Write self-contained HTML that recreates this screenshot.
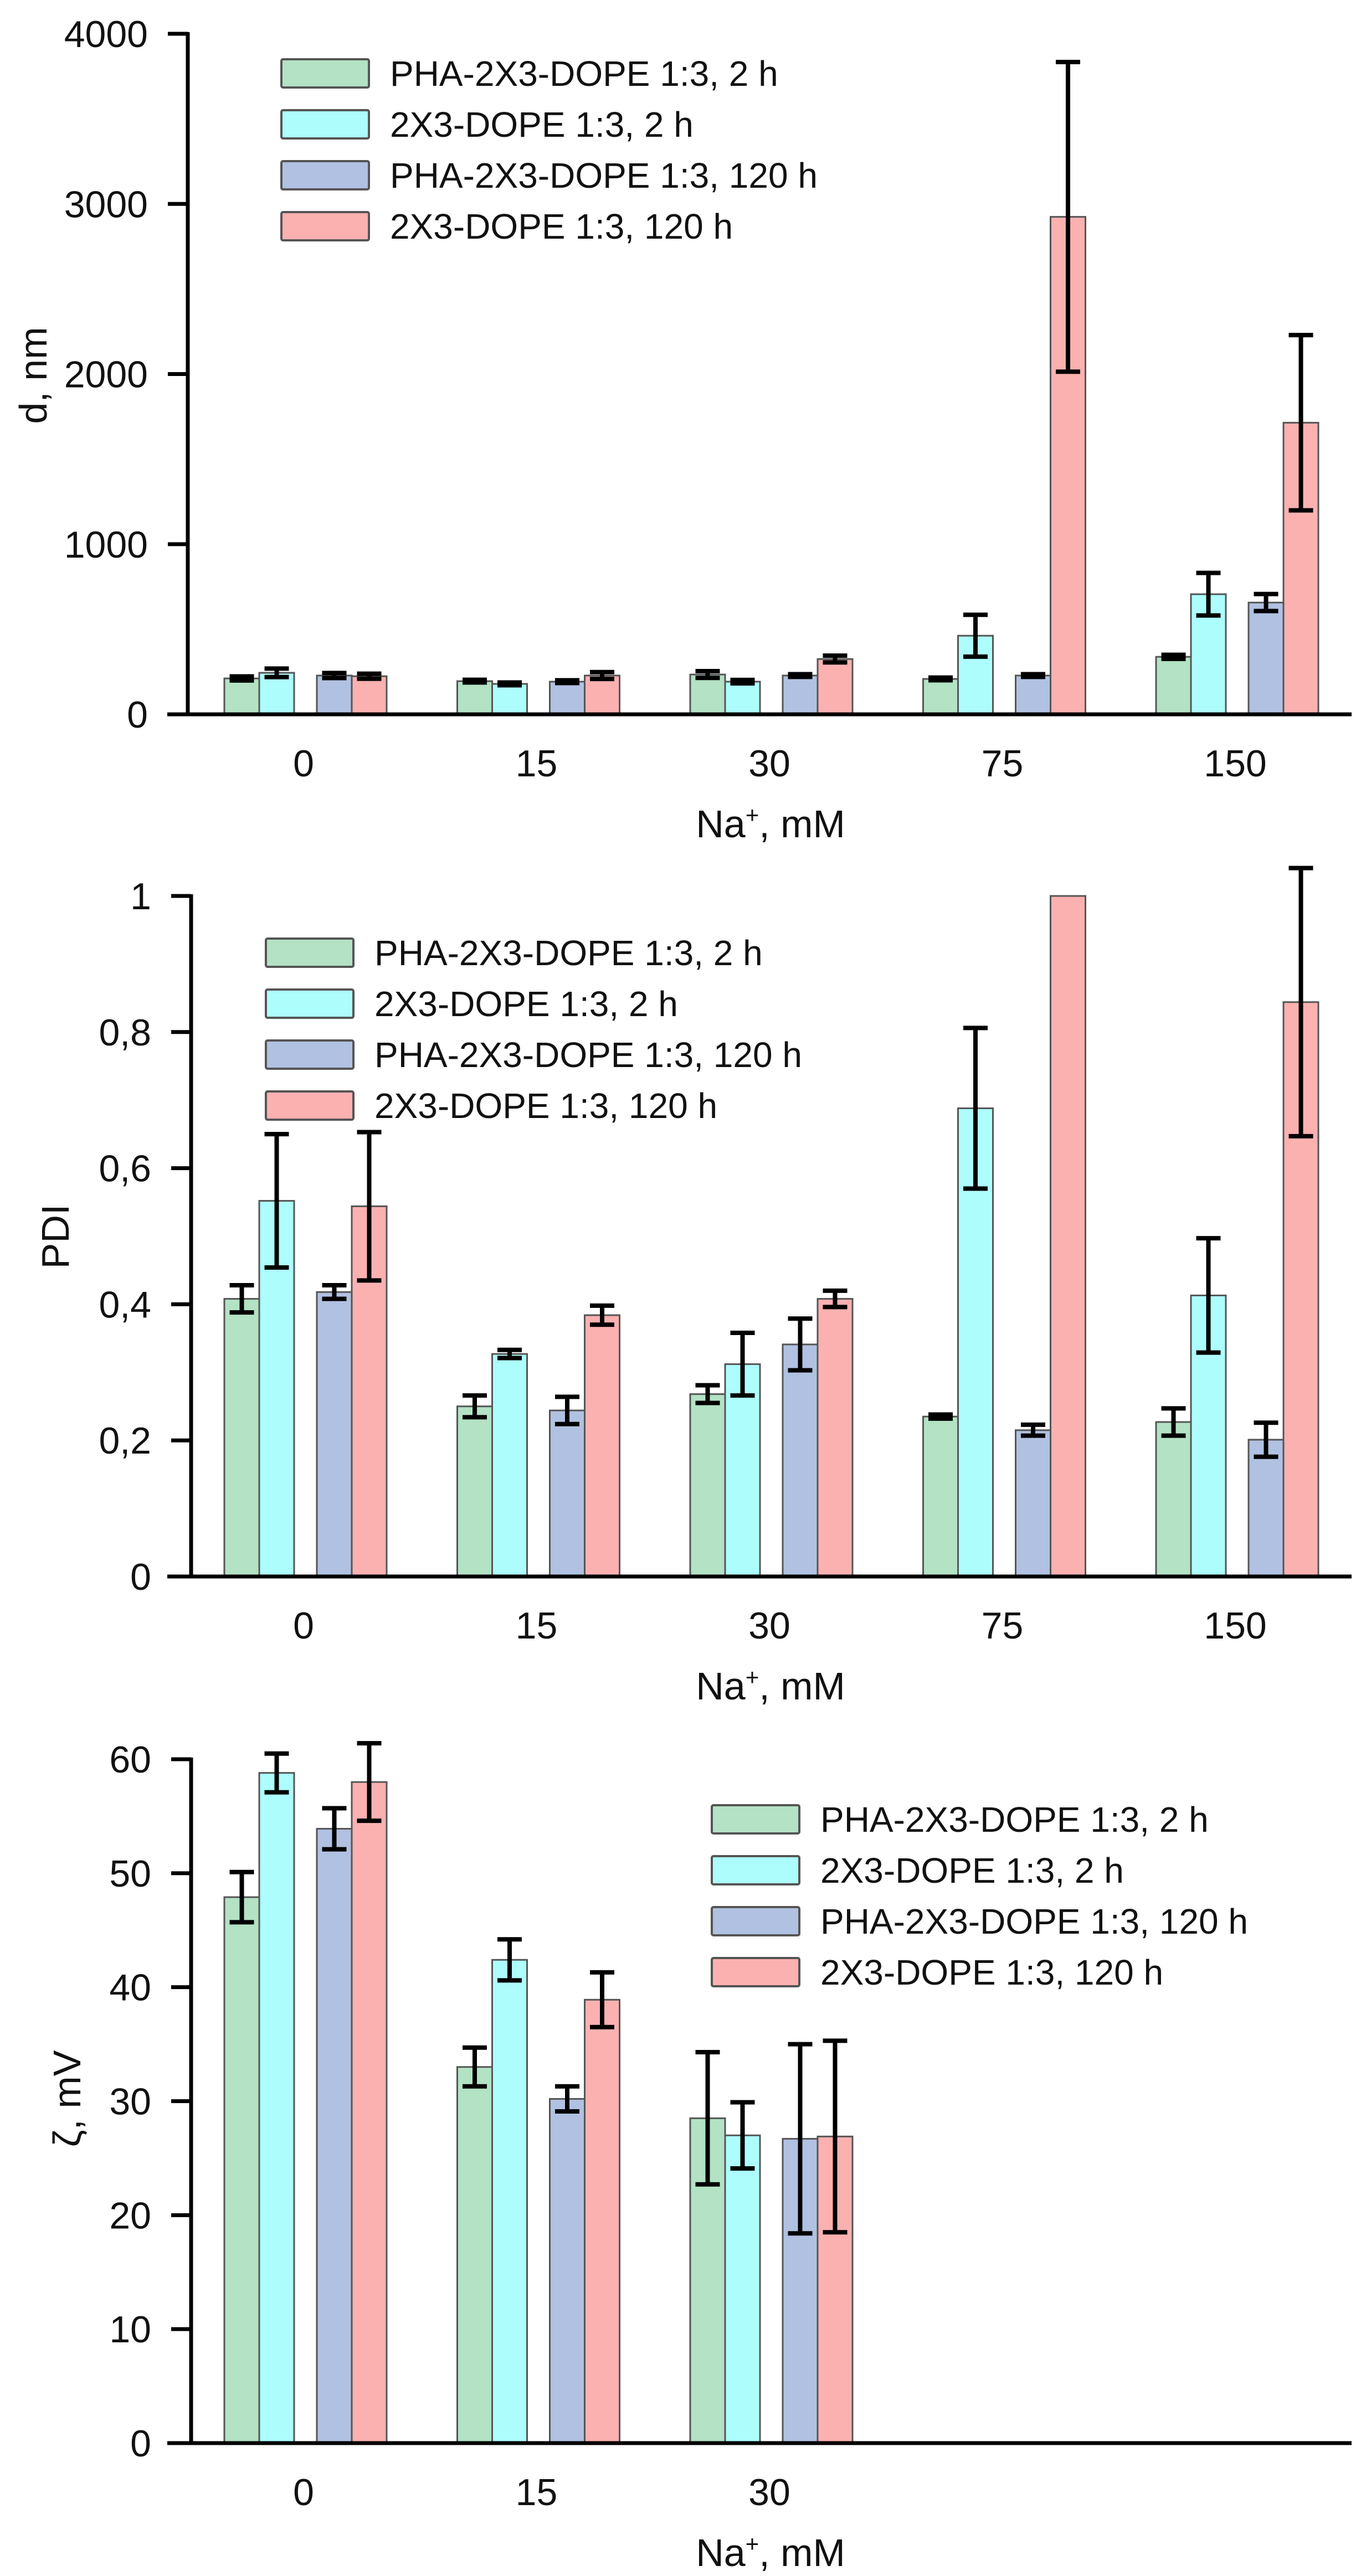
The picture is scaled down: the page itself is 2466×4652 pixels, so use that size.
<!DOCTYPE html>
<html><head><meta charset="utf-8"><style>
html,body{margin:0;padding:0;background:#fff;}
svg{display:block;font-family:"Liberation Sans",Arial,sans-serif;}
</style></head><body>
<svg id="fig" width="2466" height="4652" viewBox="0 0 2466 4652" xmlns="http://www.w3.org/2000/svg"></svg>
<script>
const categories = ["0","15","30","75","150"];
const seriesNames = ["PHA-2X3-DOPE 1:3, 2 h","2X3-DOPE 1:3, 2 h","PHA-2X3-DOPE 1:3, 120 h","2X3-DOPE 1:3, 120 h"];
// Chart 1: d, nm
const dGreen = [211,195,234,208,338];
const dGreenErr = [12,8,20,8,12];
const dCyan = [244,179,192,462,706];
const dCyanErr = [25,8,10,123,125];
const dBlue = [228,192,228,228,657];
const dBlueErr = [15,8,8,8,50];
const dRed = [224,228,325,2924,1714];
const dRedErr = [15,20,20,910,515];
const dTicks = ["0","1000","2000","3000","4000"];
// Chart 2: PDI
const pGreen = [0.408,0.250,0.268,0.235,0.227];
const pGreenErr = [0.02,0.016,0.013,0.003,0.02];
const pCyan = [0.552,0.327,0.312,0.688,0.413];
const pCyanErr = [0.098,0.006,0.046,0.118,0.084];
const pBlue = [0.418,0.244,0.341,0.215,0.201];
const pBlueErr = [0.01,0.02,0.038,0.008,0.025];
const pRed = [0.544,0.384,0.408,1.0,0.844];
const pRedErr = [0.109,0.014,0.012,0,0.197];
const pTicks = ["0","0,2","0,4","0,6","0,8","1"];
// Chart 3: zeta, mV
const zGreen = [47.9,33.0,28.5,null,null];
const zGreenErr = [2.2,1.7,5.8,0,0];
const zCyan = [58.8,42.4,27.0,null,null];
const zCyanErr = [1.7,1.8,2.9,0,0];
const zBlue = [53.9,30.2,26.7,null,null];
const zBlueErr = [1.8,1.1,8.3,0,0];
const zRed = [58.0,38.9,26.9,null,null];
const zRedErr = [3.4,2.4,8.4,0,0];
const zTicks = ["0","10","20","30","40","50","60"];

const colors = ["#b3e2c4","#adfdfc","#b1c1e1","#fcb1b1"];
const NS = "http://www.w3.org/2000/svg";
const svg = document.getElementById("fig");
function mk(tag, attrs, parent){const e=document.createElementNS(NS,tag);for(const k in attrs)e.setAttribute(k,attrs[k]);(parent||svg).appendChild(e);return e;}

const barOffsets = [-143,-80,24,87];
const barW = 63;
function xCenter(i){return 548 + i*420.5;}

function chart(cfg){
  const g = mk("g",{});
  
  
  const y = v => cfg.y0 - (v - 0)/cfg.max*(cfg.y0-cfg.yTop);
  cfg.series.forEach((vals,s)=>{
    vals.forEach((v,i)=>{
      if(v===null) return;
      const x = xCenter(i)+barOffsets[s];
      const r = mk("rect",{x:x,y:y(v),width:barW,height:cfg.y0-y(v),fill:colors[s],stroke:"#555","stroke-width":3},g);
      
      
      const e = cfg.errs[s][i];
      if(e>0){
        const cx = x+barW/2;
        const eb = mk("path",{d:`M${cx} ${y(v+e)}V${y(v-e)}M${cx-22} ${y(v+e)}H${cx+22}M${cx-22} ${y(v-e)}H${cx+22}`,stroke:"#000","stroke-width":8,fill:"none"},g);
        
        
      }
    });
  });
  const ya = mk("line",{x1:cfg.ax,y1:cfg.yTop-3,x2:cfg.ax,y2:cfg.y0,stroke:"#000","stroke-width":7},g);
  
  
  const xa = mk("line",{x1:302,y1:cfg.y0,x2:2440,y2:cfg.y0,stroke:"#000","stroke-width":7},g);
  
  
  cfg.ticks.forEach((t,k)=>{
    const v = k*cfg.max/(cfg.ticks.length-1);
    const yy = y(v);
    mk("line",{x1:cfg.ax-36,y1:yy,x2:cfg.ax,y2:yy,stroke:"#000","stroke-width":7},g);
    const tx = mk("text",{x:cfg.ax-72,y:yy+24,"text-anchor":"end","font-size":68,fill:"#111"},g);
    tx.textContent = t;
    
    
  });
  categories.forEach((c,i)=>{
    if(cfg.showCats && !cfg.showCats[i]) return;
    const tx = mk("text",{x:xCenter(i),y:cfg.y0+112,"text-anchor":"middle","font-size":68,fill:"#111"},g);
    tx.textContent = c;
    
    
  });
  const xt = mk("text",{x:1391,y:cfg.y0+222,"text-anchor":"middle","font-size":70,fill:"#111"},g);
  xt.innerHTML = 'Na<tspan font-size="42" dy="-26">+</tspan><tspan dy="26">, mM</tspan>';
  
  
  const yt = mk("text",{x:0,y:0,"text-anchor":"middle","font-size":70,fill:"#111",transform:`translate(${cfg.titleX},${cfg.titleY}) rotate(-90)`},g);
  yt.textContent = cfg.title;
  
  
  seriesNames.forEach((n,s)=>{
    const ly = cfg.legY + s*92;
    const sw = mk("rect",{x:cfg.legX,y:ly,width:158,height:51,rx:3,fill:colors[s],stroke:"#555","stroke-width":4},g);
    
    
    const lt = mk("text",{x:cfg.legX+196,y:ly+48,"font-size":64,fill:"#111"},g);
    lt.textContent = n;
    
    
  });
}

chart({name:"size-chart",key:"d",y0:1290,yTop:61,max:4000,ax:339,ticks:dTicks,
  series:[dGreen,dCyan,dBlue,dRed],errs:[dGreenErr,dCyanErr,dBlueErr,dRedErr],
  title:"d, nm",titleX:84,titleY:678,legX:508,legY:107});
chart({name:"pdi-chart",key:"pdi",y0:2847,yTop:1618,max:1,ax:345,ticks:pTicks,
  series:[pGreen,pCyan,pBlue,pRed],errs:[pGreenErr,pCyanErr,pBlueErr,pRedErr],
  title:"PDI",titleX:124,titleY:2233,legX:480,legY:1695});
chart({name:"zeta-chart",key:"zeta",y0:4412,yTop:3177,max:60,ax:345,ticks:zTicks,
  series:[zGreen,zCyan,zBlue,zRed],errs:[zGreenErr,zCyanErr,zBlueErr,zRedErr],
  showCats:[true,true,true,false,false],
  title:"ζ, mV",titleX:145,titleY:3790,legX:1285,legY:3260});
</script>
</body></html>
